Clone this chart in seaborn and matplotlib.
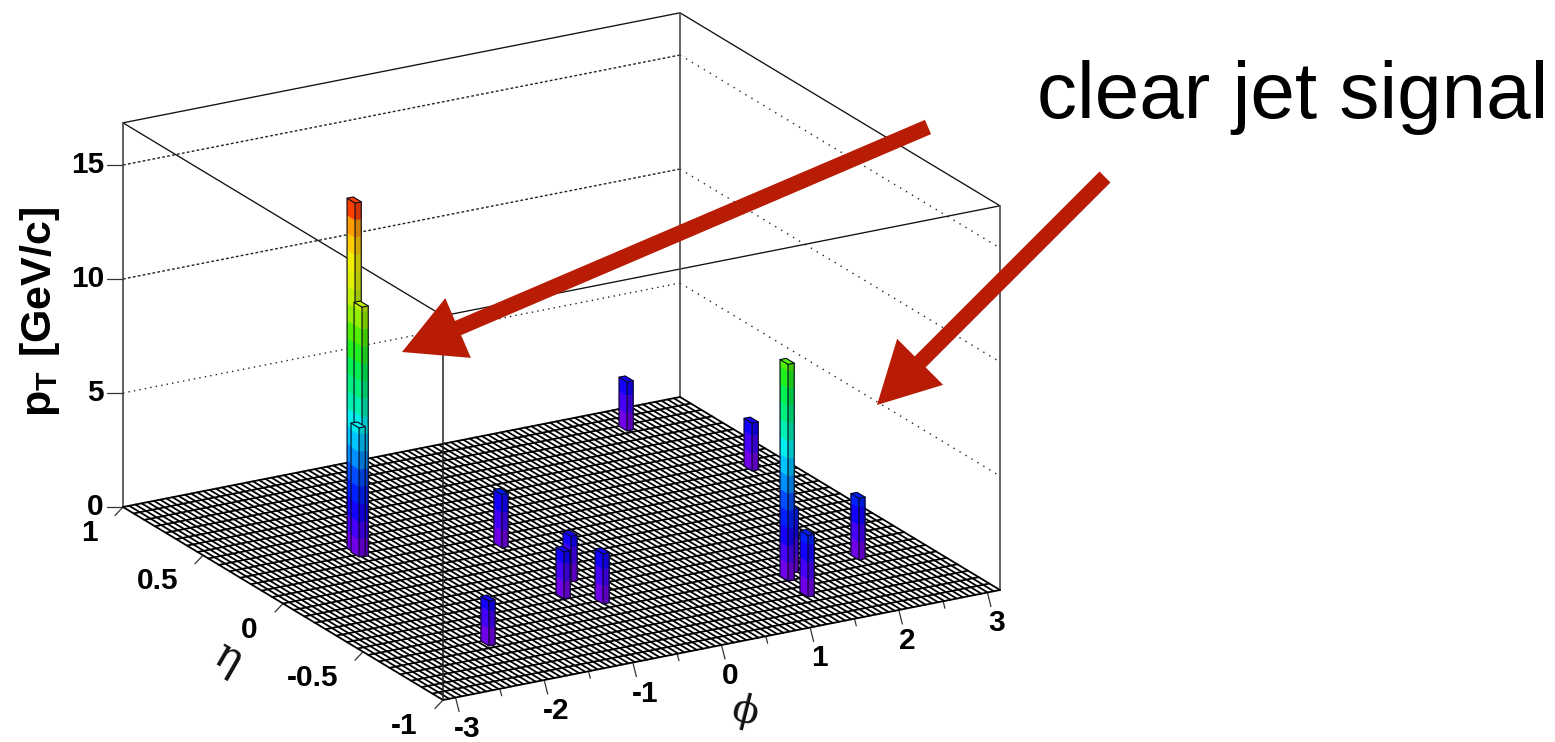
"""Lego view of a jet event in phi / eta / pT, with the clear jet arrows."""

import numpy as np
import pandas as pd
import matplotlib.pyplot as plt
import seaborn as sns

# bars: front corner of the bin in phi and eta, height in pT (back to front)
bar_phi = [2.212, 2.711, -1.818, -1.815, -1.840, -0.499, 2.366, -0.391,
           1.613, 1.467, -0.690, -0.429, 1.411, -1.990]
bar_eta = [0.816, 0.311, 0.283, 0.241, 0.246, 0.096, -0.548, -0.276,
           -0.547, -0.603, -0.398, -0.497, -0.759, -0.649]
bar_pt = [2.15, 2.1, 15.35, 10.96, 5.66, 2.35, 2.7, 2.0,
          2.8, 9.5, 2.06, 2.2, 2.7, 1.97]

pt_ticks = [0, 5, 10, 15]
eta_ticks = [1, 0.5, 0, -0.5, -1]
phi_major = [-3, -2, -1, 0, 1, 2, 3]
phi_minor = [-2.5, -1.5, -0.5, 0.5, 1.5, 2.5]
eta_labels = ["1", "0.5", "0", "-0.5", "-1"]
phi_labels = ["-3", "-2", "-1", "0", "1", "2", "3"]

PT_TOP = 16.85
N_PHI, N_ETA = 90, 30
DPHI, DETA = 0.07, 0.05
N_LEVELS = 20
RED = "#b81c05"

sns.set_theme(style="white")
plt.rcParams["font.family"] = ["Liberation Sans", "DejaVu Sans"]
plt.rcParams["mathtext.fontset"] = "custom"
plt.rcParams["mathtext.bf"] = "Liberation Sans:bold"

rainbow = sns.blend_palette(
    ["#7000e8", "#4400f8", "#1000ff", "#0020ff", "#0050ff", "#0090ff", "#00c8ff",
     "#00f0f0", "#00f0b0", "#00f080", "#00f050", "#20f020", "#50f000", "#90f000",
     "#c0f000", "#e0f000", "#f0f000", "#ffd000", "#ffa000", "#ff4000"],
    n_colors=N_LEVELS,
)


def project(phi, eta, pt=0.0):
    """Parallel projection of the box to picture pixels."""
    u = (np.asarray(phi, dtype=float) + np.pi) / (2 * np.pi)
    v = (np.asarray(eta, dtype=float) + 1) / 2
    x = 443 + 557 * u - 320 * v
    y = 700 - 110 * u - 193 * v - 22.8 * np.asarray(pt, dtype=float)
    return x, y


def draw_lines(ax, lines, **kws):
    """Draw a list of (xs, ys) polylines with seaborn."""
    rows = []
    for i, (xs, ys) in enumerate(lines):
        rows.append(pd.DataFrame({"x": np.atleast_1d(xs), "y": np.atleast_1d(ys), "line": i}))
    df = pd.concat(rows, ignore_index=True)
    sns.lineplot(data=df, x="x", y="y", units="line", estimator=None, sort=False,
                 errorbar=None, legend=False, ax=ax, **kws)


def box_line(*corners):
    pts = [project(*c) for c in corners]
    return [p[0] for p in pts], [p[1] for p in pts]


def shade(color, factor):
    return tuple(min(1, c * factor) for c in color)


def draw_bar(ax, phi, eta, pt, zorder):
    band = PT_TOP * 0.9125 / N_LEVELS
    top = min(int(pt / band), N_LEVELS - 1)
    for lev in range(top + 1):
        z0, z1 = lev * band, min((lev + 1) * band, pt)
        # left face, right face
        xs, ys = box_line((phi, eta, z0), (phi, eta + DETA, z0), (phi, eta + DETA, z1), (phi, eta, z1))
        ax.fill(xs, ys, color=rainbow[lev], lw=0.3, zorder=zorder)
        xs, ys = box_line((phi, eta, z0), (phi + DPHI, eta, z0), (phi + DPHI, eta, z1), (phi, eta, z1))
        ax.fill(xs, ys, color=shade(rainbow[lev], 0.82), lw=0.3, zorder=zorder)
    xs, ys = box_line((phi, eta, pt), (phi + DPHI, eta, pt), (phi + DPHI, eta + DETA, pt), (phi, eta + DETA, pt))
    ax.fill(xs, ys, color=rainbow[top], lw=0.3, zorder=zorder)
    outline = [
        box_line((phi, eta + DETA, 0), (phi, eta, 0), (phi + DPHI, eta, 0), (phi + DPHI, eta, pt),
                 (phi + DPHI, eta + DETA, pt), (phi, eta + DETA, pt), (phi, eta + DETA, 0)),
        box_line((phi, eta, 0), (phi, eta, pt), (phi, eta + DETA, pt)),
        box_line((phi, eta, pt), (phi + DPHI, eta, pt)),
    ]
    for xs, ys in outline:
        ax.plot(xs, ys, color="#080820", lw=0.8, zorder=zorder + 0.1, solid_joinstyle="round")


fig = plt.figure(figsize=(15.55, 7.42), dpi=100)
ax = fig.add_axes([0, 0, 1, 1])

L, R = -np.pi, np.pi

# dotted grid on the two back walls, denser on the left one
draw_lines(ax, [box_line((L, 1, z), (R, 1, z)) for z in pt_ticks[2:]],
           color="#222222", linewidth=1.0, linestyle=(0, (2, 1.6)), zorder=1)
draw_lines(ax, [box_line((L, 1, 5), (R, 1, 5))],
           color="#222222", linewidth=1.0, linestyle=(0, (1, 3)), zorder=1)
draw_lines(ax, [box_line((R, 1, z), (R, -1, z)) for z in pt_ticks[1:]],
           color="#222222", linewidth=1.0, linestyle=(0, (1, 4)), zorder=1)

# box edges: grey uprights, thin black top
back_top = [box_line((L, 1, PT_TOP), (R, 1, PT_TOP), (R, -1, PT_TOP), (L, -1, PT_TOP), (L, 1, PT_TOP))]
draw_lines(ax, back_top, color="#111111", linewidth=0.95, zorder=2)
uprights = [box_line((L, 1, 0), (L, 1, PT_TOP)), box_line((R, 1, 0), (R, 1, PT_TOP)),
            box_line((R, -1, 0), (R, -1, PT_TOP))]
draw_lines(ax, uprights, color="#555555", linewidth=1.3, zorder=2)

# floor mesh
xs, ys = box_line((L, -1), (R, -1), (R, 1), (L, 1))
ax.fill(xs, ys, color="white", zorder=3)
phi_edges = np.linspace(L, R, N_PHI + 1)
eta_edges = np.linspace(-1, 1, N_ETA + 1)
mesh = [box_line((p, -1), (p, 1)) for p in phi_edges] + [box_line((L, e), (R, e)) for e in eta_edges]
draw_lines(ax, mesh, color="black", linewidth=1.3, zorder=4)

# front upright runs over the floor
draw_lines(ax, [box_line((L, -1, 0), (L, -1, PT_TOP))], color="#222222", linewidth=1.1, zorder=5)

for i, (p, e, z) in enumerate(zip(bar_phi, bar_eta, bar_pt)):
    draw_bar(ax, p, e, z, 6 + i)

# axis ticks and labels
ticks = []
for z in pt_ticks:
    x, y = project(L, 1, z)
    ticks.append(([x, x - 16], [y, y]))
    ax.text(x - 19, y, str(z), ha="right", va="center", fontsize=21.5, fontweight="bold", color="black")
for e, lab in zip(eta_ticks, eta_labels):
    x, y = project(L, e)
    ticks.append(([x, x - 8], [y, y + 8.5]))
    ax.text(x - 25, y + 26, lab, ha="right", va="center", fontsize=21.5, fontweight="bold", color="black")
for p, lab in zip(phi_major, phi_labels):
    x, y = project(p, -1)
    ticks.append(([x, x + 3.5], [y, y + 14]))
    shift = 12 if lab.startswith("-") else 9
    ax.text(x + shift, y + 31, lab, ha="center", va="center", fontsize=21.5, fontweight="bold", color="black")
for p in phi_minor:
    x, y = project(p, -1)
    ticks.append(([x, x + 1.8], [y, y + 7]))
draw_lines(ax, ticks, color="#333333", linewidth=0.9, zorder=2)

ax.text(40, 312, r"$\mathbf{p_T\ [GeV/c]}$", rotation=90, ha="center", va="center", fontsize=31, color="black")
ax.text(228, 658, "\u03b7", rotation=-30, ha="center", va="center", fontsize=31,
        family=["DejaVu Serif"], color="#111111")
ax.text(745, 712, "\u03d5", rotation=-14, ha="center", va="center", fontsize=28,
        family=["DejaVu Serif"], color="#111111")

ax.text(1037, 118, "clear jet signal", ha="left", va="baseline", fontsize=57.6, color="black")

# the two red arrows
for x0, y0, x1, y1 in [(928, 127, 402, 352), (1105, 177, 877, 405)]:
    ax.arrow(x0, y0, x1 - x0, y1 - y0, width=15.5, head_width=65, head_length=61,
             length_includes_head=True, color=RED, lw=0, zorder=40)

ax.set_xlim(0, 1555)
ax.set_ylim(742, 0)
ax.set_axis_off()

fig.savefig("out.png", dpi=100, facecolor="white")
